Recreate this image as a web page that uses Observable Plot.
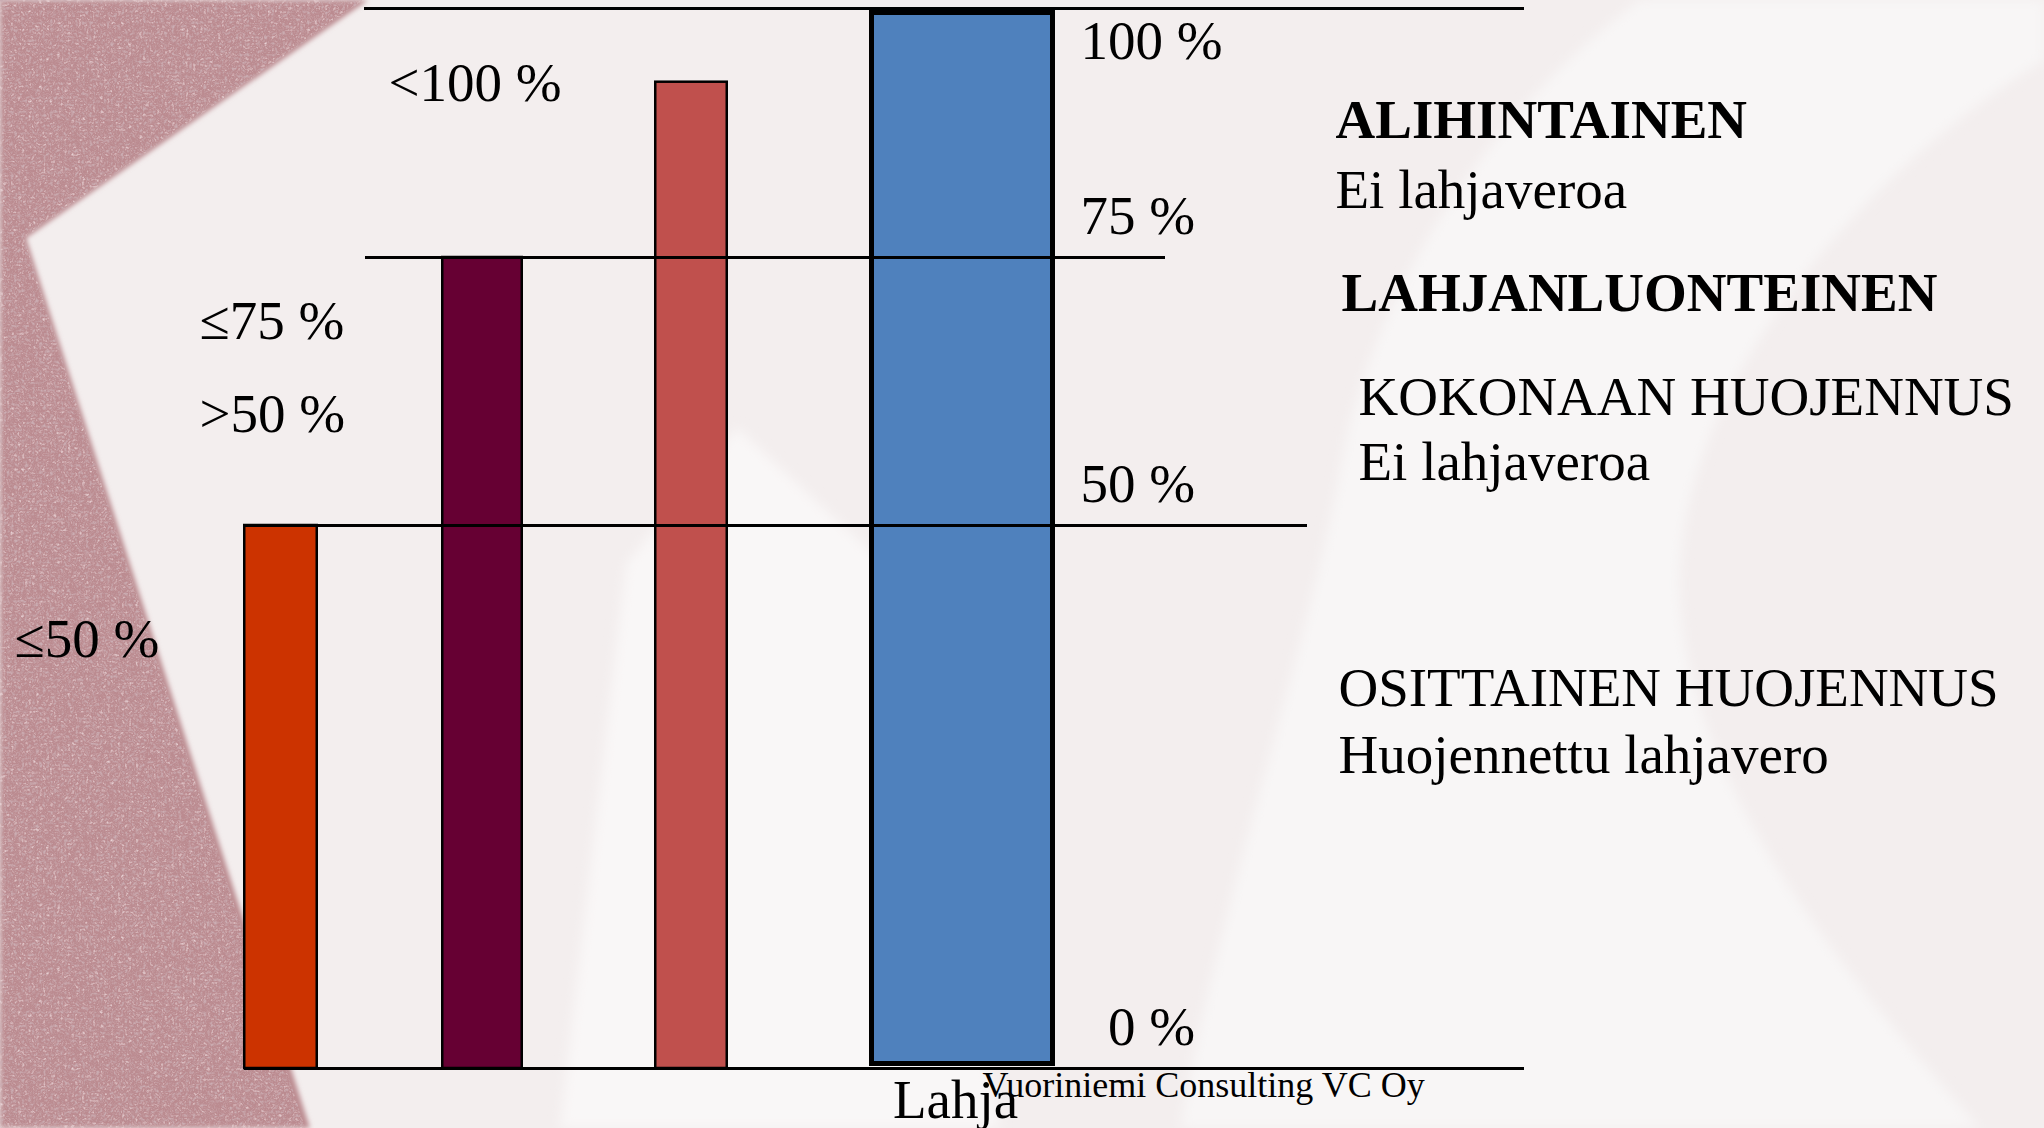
<!DOCTYPE html>
<html>
<head>
<meta charset="utf-8">
<script src="https://cdn.jsdelivr.net/npm/d3@7"></script>
<script src="https://cdn.jsdelivr.net/npm/@observablehq/plot@0.6"></script>
<style>
  html, body { margin: 0; padding: 0; background: #f4efef; }
  #wrap { position: relative; width: 2044px; height: 1128px; overflow: hidden; }
  #bg, #chart { position: absolute; left: 0; top: 0; }
</style>
</head>
<body>
<div id="wrap">
  <svg id="bg" width="2044" height="1128" viewBox="0 0 2044 1128">
    <defs>
      <filter id="soft" x="-5%" y="-5%" width="110%" height="110%">
        <feGaussianBlur stdDeviation="2.5"/>
      </filter>
      <filter id="edge" x="-5%" y="-5%" width="110%" height="110%">
        <feGaussianBlur stdDeviation="6"/>
      </filter>
      <filter id="grain" x="0" y="0" width="100%" height="100%">
        <feTurbulence type="fractalNoise" baseFrequency="0.28" numOctaves="3" seed="5" result="n"/>
        <feColorMatrix in="n" type="matrix"
          values="0 0 0 0 0.60  0 0 0 0 0.42  0 0 0 0 0.45  3.0 0 0 0 -1.45" result="dark"/>
        <feColorMatrix in="n" type="matrix"
          values="0 0 0 0 0.82  0 0 0 0 0.67  0 0 0 0 0.69  -2.6 0 0 0 1.15" result="light"/>
        <feMerge result="m"><feMergeNode in="dark"/><feMergeNode in="light"/></feMerge>
        <feComposite in="m" in2="SourceAlpha" operator="in"/>
      </filter>
    </defs>
    <rect width="2044" height="1128" fill="#f3eeee"/>
    <path d="M1640 0 C1480 120 1370 300 1340 470 C1310 640 1220 900 1180 1128 L1980 1128 C1830 960 1690 780 1680 600 C1670 400 1850 180 2044 60 L2044 0 Z" fill="#f8f6f6" filter="url(#edge)"/>
    <polygon points="737,428 880,560 1000,1128 560,1128 626,564" fill="#f9f7f7" filter="url(#edge)"/>
    <polygon points="0,0 368,0 26,238 310,1128 0,1128" fill="#bb8b90" filter="url(#soft)"/>
    <polygon points="0,0 364,0 24,238 305,1128 0,1128" fill="#000" filter="url(#grain)"/>
  </svg>
  <div id="chart"></div>
</div>
<script>
// ---- data ----
const series = ["≤50 %", ">50 % ≤75 %", "<100 %", "Lahja"];
const values = [50, 75, 92.6, 100];
const barColors = ["#cc3300", "#660033", "#c0504d", "#4f81bd"];
const thresholds = [0, 50, 75, 100];
const thresholdLabels = ["0 %", "50 %", "75 %", "100 %"];
const barLabels = ["≤50 %", "≤75 %", ">50 %", "<100 %"];
const barLabelOf = [0, 1, 1, 2];             // which bar each label belongs to
const barLabelAt = [37.9, 67.4, 58.7, 90.7]; // % level of each label
const zoneTexts = ["ALIHINTAINEN", "Ei lahjaveroa", "LAHJANLUONTEINEN", "KOKONAAN HUOJENNUS", "Ei lahjaveroa", "OSITTAINEN HUOJENNUS", "Huojennettu lahjavero"];
const zoneAt = [87, 80, 70, 60.3, 54.2, 33.4, 27.2];
const zoneBold = [true, false, true, false, false, false, false];
const categoryLabel = "Lahja";
const credit = "Vuoriniemi Consulting VC Oy";

// ---- styles / layout ----
const FONT = "'Liberation Serif', 'Times New Roman', serif";
const barWidth = [72.5, 79.5, 71.5, 181];
const barStroke = [2.5, 2.5, 2.5, 5];
const barInsetV = [0, 0, 0, 4.5];
const ruleSpan = {100: [364, 1524], 75: [365, 1165], 50: [243, 1307], 0: [244, 1524]};
const barLabelDx = [-266.5, -283, -283, -303];
const zoneDx = [1335, 1335, 1341, 1358, 1358, 1338, 1338];
const W = 2044, H = 1128;

const rows = series.map((s, i) => ({series: s, i, value: values[i]}));

const marks = [];
// bars
rows.forEach((r, k) => {
  marks.push(Plot.rect([r], {
    x1: "i", x2: "i", y1: () => 0, y2: "value",
    fill: barColors[k], stroke: "#000", strokeWidth: barStroke[k],
    insetLeft: -barWidth[k] / 2, insetRight: -barWidth[k] / 2,
    insetTop: barInsetV[k], insetBottom: barInsetV[k]
  }));
});
// threshold rules
thresholds.forEach(t => {
  const [a, b] = ruleSpan[t];
  marks.push(Plot.ruleY([t], {stroke: "#000", strokeWidth: 3, insetLeft: a, insetRight: W - b}));
});
// threshold labels
const tl = thresholds.map((t, i) => ({t, label: thresholdLabels[i]}));
marks.push(Plot.text(tl.filter(d => d.t !== 100), {
  y: "t", text: d => d.t === 0 ? "\u2007" + d.label : d.label,
  frameAnchor: "left", textAnchor: "start", lineAnchor: "bottom",
  dx: 1080, dy: -24, fontSize: 55, fontFamily: FONT, fill: "#000"
}));
marks.push(Plot.text(tl.filter(d => d.t === 100), {
  y: "t", text: "label",
  frameAnchor: "left", textAnchor: "start", lineAnchor: "bottom",
  dx: 1080, dy: 50, fontSize: 55, fontFamily: FONT, fill: "#000"
}));
// bar labels
barLabels.forEach((lab, k) => {
  marks.push(Plot.text([lab], {
    x: () => barLabelOf[k], y: () => barLabelAt[k], text: d => d,
    textAnchor: "start", lineAnchor: "bottom", dx: barLabelDx[k],
    fontSize: 55, fontFamily: FONT, fill: "#000"
  }));
});
// zone descriptions
zoneTexts.forEach((txt, k) => {
  marks.push(Plot.text([txt], {
    y: () => zoneAt[k], text: d => d,
    frameAnchor: "left", textAnchor: "start", lineAnchor: "bottom", dx: zoneDx[k],
    fontSize: 55, fontFamily: FONT, fontWeight: zoneBold[k] ? "bold" : "normal", fill: "#000"
  }));
});
// category axis
marks.push(Plot.axisX([3], {
  anchor: "bottom", tickSize: 0, tickPadding: 10, tickFormat: () => categoryLabel,
  dx: -7, fontSize: 55, fontFamily: FONT, fill: "#000", label: null
}));
// credit
marks.push(Plot.text([credit], {
  x: () => 3, y: () => 0, text: d => d,
  textAnchor: "start", lineAnchor: "bottom", dx: 20, dy: 28,
  fontSize: 36, fontFamily: FONT, fill: "#000"
}));

const chart = Plot.plot({
  width: W, height: H,
  marginTop: 0, marginLeft: 0, marginRight: 0, marginBottom: 60,
  x: {type: "linear", domain: [0, 1, 2, 3], range: [280.5, 482, 691, 962], axis: null},
  y: {type: "linear", domain: [0, 50, 75, 100], range: [1068, 525, 257, 8], axis: null},
  style: {background: "transparent", fontFamily: FONT, color: "#000", overflow: "visible"},
  marks
});
document.getElementById("chart").appendChild(chart);
</script>
</body>
</html>
